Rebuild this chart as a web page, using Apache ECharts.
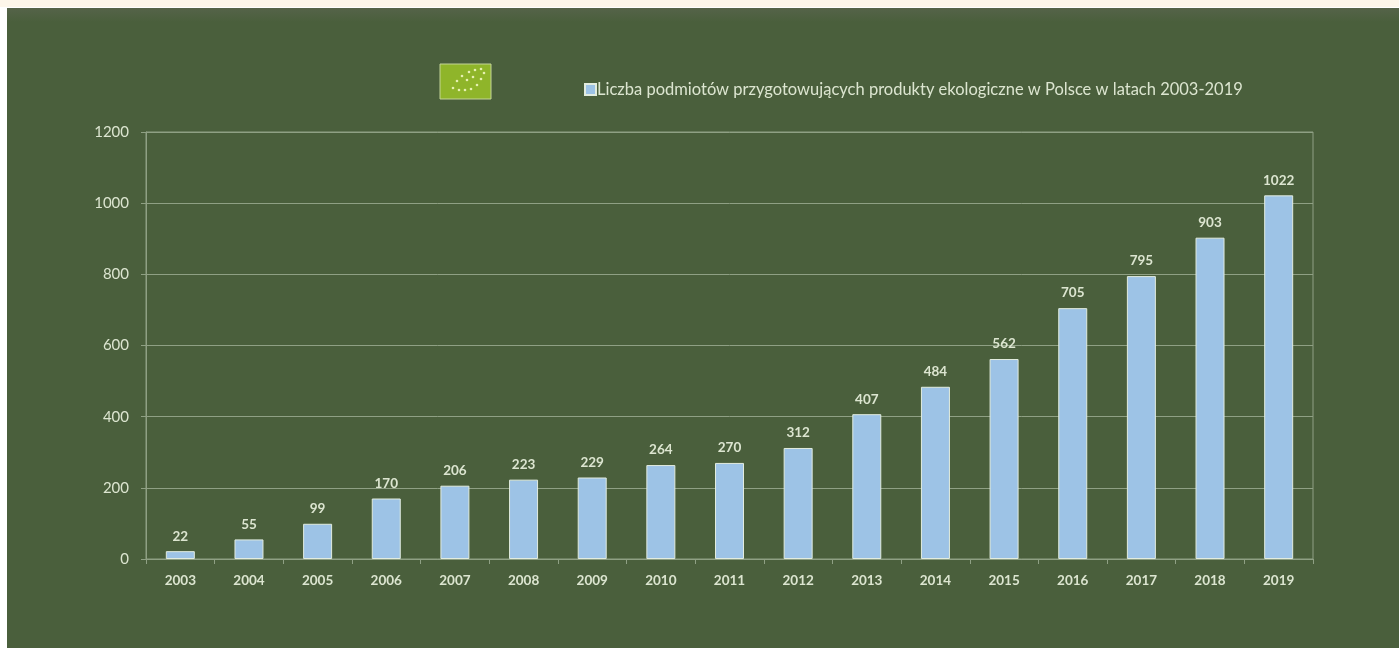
<!DOCTYPE html>
<html lang="pl">
<head>
<meta charset="utf-8">
<title>Podmioty przygotowujące produkty ekologiczne</title>
<style>
  html, body { margin: 0; padding: 0; width: 1399px; height: 648px; overflow: hidden; background: #fff; }
  body::before { content: ""; position: absolute; left: 0; top: 0; width: 1399px; height: 7px; background: #fdf6ea; }
  #panel { position: absolute; left: 0; top: 0; width: 1399px; height: 648px; }
</style>
<script src="https://cdn.jsdelivr.net/npm/echarts@6/dist/echarts.min.js"></script>
</head>
<body>
<div id="panel"></div>
<script>
const years = ['2003','2004','2005','2006','2007','2008','2009','2010','2011','2012','2013','2014','2015','2016','2017','2018','2019'];
const operators = [22,55,99,170,206,223,229,264,270,312,407,484,562,705,795,903,1022];
const seriesName = 'Liczba podmiotów przygotowujących produkty ekologiczne w Polsce w latach 2003-2019';

const FONT = 'Lato';
const TEXT = '#dce5d0';
const LINE = '#8fa084';
const PANEL = '#4a5f3c';

// Small EU organic leaf badge: stars arranged along a leaf outline
const leafDots = [[13,24],[17,17],[22,12],[29,8],[35,6],[41,5],[44,9],[41,15],[37,21],[31,25],[25,26],[19,26],[27,16],[33,13]];
const badge = [
  { type: 'rect', shape: { x: 0, y: 0, width: 51, height: 35 }, style: { fill: '#8fb52a', stroke: '#c3d596', lineWidth: 1 } }
].concat(leafDots.map(d => ({
  type: 'circle', shape: { cx: d[0], cy: d[1], r: 1.3 }, style: { fill: '#e6f0b0' }
})));

const chart = echarts.init(document.getElementById('panel'), null, { renderer: 'canvas' });
chart.setOption({
  animation: false,
  backgroundColor: 'transparent',
  textStyle: { fontFamily: FONT },
  graphic: [
    { type: 'rect', z: -10, silent: true, shape: { x: 7, y: 8, width: 1392, height: 640 }, style: { fill: PANEL } },
    // Slightly paler band along the top edge of the panel
    { type: 'rect', z: -9, silent: true, shape: { x: 7, y: 8, width: 1392, height: 14 },
      style: { fill: new echarts.graphic.LinearGradient(0, 0, 0, 1, [
        { offset: 0, color: '#556349' }, { offset: 1, color: PANEL }
      ]) } },
    { type: 'group', left: 439.5, top: 63.5, z: 5, silent: true, children: badge }
  ],
  legend: {
    left: 579, top: 76,
    itemWidth: 11, itemHeight: 11, itemGap: 0,
    icon: 'rect',
    textStyle: { color: TEXT, fontFamily: FONT, fontSize: 16.5, padding: [0, 0, 0, -4] },
    data: [seriesName]
  },
  grid: {
    left: 146, right: 86, top: 132, bottom: 89,
    show: true, borderColor: LINE, borderWidth: 1, backgroundColor: 'transparent'
  },
  xAxis: {
    type: 'category',
    data: years,
    axisLine: { lineStyle: { color: LINE, width: 1 } },
    axisTick: { show: true, alignWithLabel: false, length: 5, lineStyle: { color: LINE } },
    axisLabel: { color: TEXT, fontFamily: FONT, fontSize: 13.5, fontWeight: 700, margin: 15 },
    splitLine: { show: false }
  },
  yAxis: {
    type: 'value',
    min: 0, max: 1200, interval: 200,
    axisLine: { show: true, lineStyle: { color: LINE, width: 1 } },
    axisTick: { show: true, length: 5, lineStyle: { color: LINE } },
    axisLabel: {
      color: TEXT, fontFamily: FONT, fontSize: 15, margin: 17,
      formatter: value => String(value)
    },
    splitLine: { show: true, lineStyle: { color: LINE, width: 1 } }
  },
  series: [{
    name: seriesName,
    type: 'bar',
    data: operators,
    barWidth: 29,
    itemStyle: { color: '#9dc3e6', borderColor: '#e2ecdf', borderWidth: 1 },
    label: {
      show: true, position: 'top', distance: 8,
      color: TEXT, fontFamily: FONT, fontSize: 13.5, fontWeight: 700
    }
  }]
});
</script>
</body>
</html>
